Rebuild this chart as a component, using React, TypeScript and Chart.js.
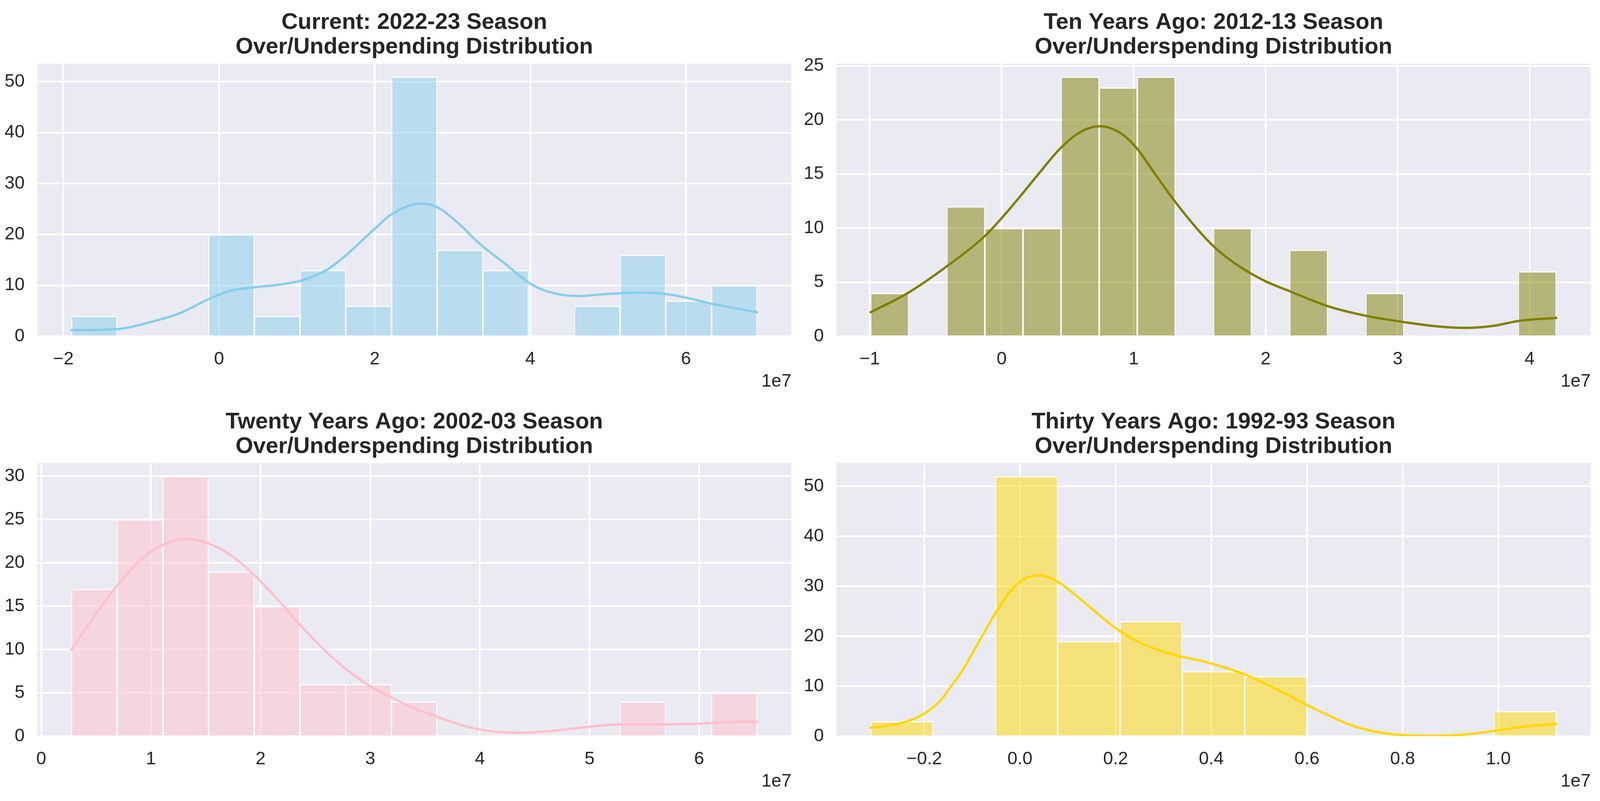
import React, { useEffect, useRef } from "react";
import { Chart, registerables } from "chart.js";

Chart.register(...registerables);

const FONT_FAMILY = '"Liberation Sans", Arial, Helvetica, sans-serif';
const TEXT_COLOR = "#262626";
const PANEL_BG = "#EAEAF2";
const SUBTITLE = "Over/Underspending Distribution";
const OFFSET_LABEL = "1e7";

// ---------- Current: 2022-23 (values in units of 1e7) ----------
const currentTitle = "Current: 2022-23 Season";
const currentBinEdges = [-1.897, -1.3095, -0.722, -0.1345, 0.453, 1.0405, 1.628, 2.2155, 2.803, 3.3905, 3.978, 4.5655, 5.153, 5.7405, 6.328, 6.9155];
const currentCounts = [4, 0, 0, 20, 4, 13, 6, 51, 17, 13, 0, 6, 16, 7, 10];
const currentKdeX = [-1.897, -1.31, -1.027, -0.829, -0.509, -0.147, 0.164, 0.435, 0.76, 1.024, 1.289, 1.411, 1.615, 2.0, 2.211, 2.595, 2.798, 3.075, 3.332, 3.672, 3.983, 4.201, 4.598, 4.995, 5.426, 5.743, 6.054, 6.332, 6.915];
const currentKdeY = [1.2, 1.4, 2.2, 3.0, 4.5, 7.2, 9.0, 9.6, 10.1, 10.8, 12.3, 13.3, 15.7, 21.1, 23.9, 26.07, 25.4, 22.2, 18.4, 14.3, 10.5, 8.9, 7.9, 8.3, 8.6, 8.3, 7.4, 6.4, 4.7];
const currentXTicks = [-2, 0, 2, 4, 6];
const currentXTickLabels = ["\u22122", "0", "2", "4", "6"];
const currentYTicks = [0, 10, 20, 30, 40, 50];
const currentYTickLabels = ["0", "10", "20", "30", "40", "50"];
const currentXLimits = [-2.338, 7.355];
const currentYMax = 53.55;

// ---------- Ten Years Ago: 2012-13 ----------
const tenTitle = "Ten Years Ago: 2012-13 Season";
const tenBinEdges = [-0.993, -0.7044, -0.4158, -0.1272, 0.1614, 0.45, 0.7386, 1.0272, 1.3158, 1.6044, 1.893, 2.1816, 2.4702, 2.7588, 3.0474, 3.336, 3.6246, 3.9132, 4.2018];
const tenCounts = [4, 0, 12, 10, 10, 24, 23, 24, 0, 10, 0, 8, 0, 4, 0, 0, 0, 6];
const tenKdeX = [-0.993, -0.719, -0.415, -0.133, 0.0, 0.14, 0.291, 0.443, 0.595, 0.742, 0.899, 1.02, 1.152, 1.304, 1.474, 1.607, 1.771, 1.998, 2.181, 2.466, 2.763, 3.048, 3.294, 3.508, 3.723, 3.918, 4.202];
const tenKdeY = [2.22, 3.94, 6.47, 9.2, 10.92, 12.93, 15.18, 17.35, 18.87, 19.41, 18.79, 17.43, 15.18, 12.6, 10.03, 8.3, 6.7, 5.09, 4.17, 2.8, 1.88, 1.31, 0.92, 0.78, 0.96, 1.42, 1.7];
const tenXTicks = [-1, 0, 1, 2, 3, 4];
const tenXTickLabels = ["\u22121", "0", "1", "2", "3", "4"];
const tenYTicks = [0, 5, 10, 15, 20, 25];
const tenYTickLabels = ["0", "5", "10", "15", "20", "25"];
const tenXLimits = [-1.2526, 4.462];
const tenYMax = 25.2;

// ---------- Twenty Years Ago: 2002-03 ----------
const twentyTitle = "Twenty Years Ago: 2002-03 Season";
const twentyBinEdges = [0.275, 0.6919, 1.1088, 1.5257, 1.9426, 2.3595, 2.7764, 3.1933, 3.6102, 4.0271, 4.444, 4.8609, 5.2778, 5.6947, 6.1116, 6.5285];
const twentyCounts = [17, 25, 30, 19, 15, 6, 6, 4, 0, 0, 0, 0, 4, 0, 5];
const twentyKdeX = [0.275, 0.469, 0.681, 0.892, 1.099, 1.315, 1.516, 1.737, 1.934, 2.16, 2.352, 2.582, 2.77, 3.005, 3.188, 3.38, 3.606, 3.85, 4.085, 4.366, 4.648, 4.977, 5.282, 5.695, 6.009, 6.291, 6.528];
const twentyKdeY = [9.95, 13.57, 17.2, 20.2, 22.0, 22.76, 22.3, 20.8, 18.7, 15.7, 12.96, 9.95, 7.84, 5.73, 4.52, 3.32, 2.26, 1.21, 0.6, 0.39, 0.6, 1.06, 1.36, 1.36, 1.45, 1.63, 1.66];
const twentyXTicks = [0, 1, 2, 3, 4, 5, 6];
const twentyXTickLabels = ["0", "1", "2", "3", "4", "5", "6"];
const twentyYTicks = [0, 5, 10, 15, 20, 25, 30];
const twentyYTickLabels = ["0", "5", "10", "15", "20", "25", "30"];
const twentyXLimits = [-0.0376, 6.841];
const twentyYMax = 31.5;

// ---------- Thirty Years Ago: 1992-93 ----------
const thirtyTitle = "Thirty Years Ago: 1992-93 Season";
const thirtyBinEdges = [-0.312, -0.1817, -0.0514, 0.0789, 0.2092, 0.3395, 0.4698, 0.6001, 0.7304, 0.8607, 0.991, 1.1213];
const thirtyCounts = [3, 0, 52, 19, 23, 13, 12, 0, 0, 0, 5];
const thirtyKdeX = [-0.312, -0.26, -0.217, -0.185, -0.163, -0.142, -0.119, -0.075, -0.049, -0.018, 0.012, 0.041, 0.078, 0.109, 0.144, 0.2, 0.253, 0.319, 0.384, 0.441, 0.472, 0.523, 0.558, 0.599, 0.645, 0.688, 0.741, 0.801, 0.86, 0.93, 1.0, 1.056, 1.121];
const thirtyKdeY = [1.67, 2.35, 3.65, 5.48, 7.5, 10.2, 13.35, 20.7, 24.96, 29.2, 31.6, 32.17, 30.94, 28.8, 26.0, 21.6, 18.63, 16.34, 14.93, 13.35, 12.29, 10.0, 8.35, 6.26, 4.18, 2.35, 0.94, 0.21, 0.08, 0.34, 1.17, 1.95, 2.45];
const thirtyXTicks = [-0.2, 0, 0.2, 0.4, 0.6, 0.8, 1.0];
const thirtyXTickLabels = ["\u22120.2", "0.0", "0.2", "0.4", "0.6", "0.8", "1.0"];
const thirtyYTicks = [0, 10, 20, 30, 40, 50];
const thirtyYTickLabels = ["0", "10", "20", "30", "40", "50"];
const thirtyXLimits = [-0.3838, 1.193];
const thirtyYMax = 54.6;

// ---------- layout, in reference-figure pixels ----------
const FIG_W = 5352;
const FIG_H = 2051;

type Frame = {
  left: number; top: number; width: number; height: number;
  plotLeft: number; plotTop: number; plotRight: number; plotBottom: number;
};

type Panel = {
  title: string;
  edges: number[];
  counts: number[];
  kdeX: number[];
  kdeY: number[];
  xTicks: number[];
  xTickLabels: string[];
  yTicks: number[];
  yTickLabels: string[];
  xLimits: number[];
  yMax: number;
  line: string;
  fill: string;
  frame: Frame;
};

const panels: Panel[] = [
  {
    title: currentTitle, edges: currentBinEdges, counts: currentCounts, kdeX: currentKdeX, kdeY: currentKdeY,
    xTicks: currentXTicks, xTickLabels: currentXTickLabels, yTicks: currentYTicks, yTickLabels: currentYTickLabels,
    xLimits: currentXLimits, yMax: currentYMax, line: "#87CEEB", fill: "rgba(135,206,235,0.5)",
    frame: { left: 0, top: 0, width: 2672, height: 1010, plotLeft: 124, plotTop: 163, plotRight: 2647, plotBottom: 861 },
  },
  {
    title: tenTitle, edges: tenBinEdges, counts: tenCounts, kdeX: tenKdeX, kdeY: tenKdeY,
    xTicks: tenXTicks, xTickLabels: tenXTickLabels, yTicks: tenYTicks, yTickLabels: tenYTickLabels,
    xLimits: tenXLimits, yMax: tenYMax, line: "#808000", fill: "rgba(128,128,0,0.5)",
    frame: { left: 2672, top: 0, width: 2680, height: 1010, plotLeft: 2797, plotTop: 163, plotRight: 5320, plotBottom: 861 },
  },
  {
    title: twentyTitle, edges: twentyBinEdges, counts: twentyCounts, kdeX: twentyKdeX, kdeY: twentyKdeY,
    xTicks: twentyXTicks, xTickLabels: twentyXTickLabels, yTicks: twentyYTicks, yTickLabels: twentyYTickLabels,
    xLimits: twentyXLimits, yMax: twentyYMax, line: "#FFC0CB", fill: "rgba(255,192,203,0.5)",
    frame: { left: 0, top: 1010, width: 2672, height: 1041, plotLeft: 124, plotTop: 1186, plotRight: 2647, plotBottom: 1885 },
  },
  {
    title: thirtyTitle, edges: thirtyBinEdges, counts: thirtyCounts, kdeX: thirtyKdeX, kdeY: thirtyKdeY,
    xTicks: thirtyXTicks, xTickLabels: thirtyXTickLabels, yTicks: thirtyYTicks, yTickLabels: thirtyYTickLabels,
    xLimits: thirtyXLimits, yMax: thirtyYMax, line: "#FFD700", fill: "rgba(255,215,0,0.5)",
    frame: { left: 2672, top: 1010, width: 2680, height: 1041, plotLeft: 2797, plotTop: 1186, plotRight: 5320, plotBottom: 1885 },
  },
];

function labelFor(values: number[], labels: string[], v: number): string {
  for (let i = 0; i < values.length; i++) {
    if (Math.abs(values[i] - v) < 1e-9) return labels[i];
  }
  return "";
}

function viewScale() {
  if (typeof window === "undefined") return { sx: 1, sy: 1 };
  const w = window.innerWidth || FIG_W;
  const h = window.innerHeight || FIG_H;
  return { sx: Math.min(1, w / FIG_W), sy: Math.min(1, h / FIG_H) };
}

function HistPanel({ p, sx, sy }: { p: Panel; sx: number; sy: number }) {
  const ref = useRef<HTMLCanvasElement | null>(null);

  const fr = p.frame;
  const L = Math.round(fr.left * sx);
  const R = Math.round((fr.left + fr.width) * sx);
  const T = Math.round(fr.top * sy);
  const B = Math.round((fr.top + fr.height) * sy);
  const pl = Math.round(fr.plotLeft * sx);
  const pr = Math.round(fr.plotRight * sx);
  const pt = Math.round(fr.plotTop * sy);
  const pb = Math.round(fr.plotBottom * sy);
  const W = R - L;
  const H = B - T;

  useEffect(() => {
    const canvas = ref.current;
    if (!canvas) return;
    const centers = p.counts.map((_, i) => (p.edges[i] + p.edges[i + 1]) / 2);

    const decor = {
      id: "decor",
      beforeDraw(chart: any) {
        const { ctx, chartArea: a } = chart;
        ctx.save();
        ctx.fillStyle = PANEL_BG;
        ctx.fillRect(a.left, a.top, a.right - a.left, a.bottom - a.top);
        ctx.restore();
      },
      afterDraw(chart: any) {
        const { ctx, chartArea: a } = chart;
        ctx.save();
        ctx.fillStyle = TEXT_COLOR;
        ctx.textAlign = "center";
        ctx.textBaseline = "alphabetic";
        ctx.font = `bold ${Math.round(58 * sy)}px ${FONT_FAMILY}`;
        const cx = (a.left + a.right) / 2;
        ctx.fillText(p.title, cx, a.top - 89 * sy);
        ctx.fillText(SUBTITLE, cx, a.top - 26 * sy);
        ctx.font = `${Math.round(46 * sy)}px ${FONT_FAMILY}`;
        ctx.textAlign = "right";
        ctx.fillText(OFFSET_LABEL, a.right, a.bottom + 129 * sy);
        ctx.restore();
      },
    };

    const tickFont = { size: Math.round(46 * sy), family: FONT_FAMILY };

    const chart = new Chart(canvas, {
      type: "bar",
      data: {
        datasets: [
          {
            type: "line",
            data: p.kdeX.map((x, i) => ({ x, y: p.kdeY[i] })),
            borderColor: p.line,
            borderWidth: 6,
            pointRadius: 0,
            fill: false,
            cubicInterpolationMode: "monotone",
            borderCapStyle: "round",
            borderJoinStyle: "round",
            order: 0,
          } as any,
          {
            type: "bar",
            data: centers.map((x, i) => ({ x, y: p.counts[i] })),
            backgroundColor: p.fill,
            borderColor: "#ffffff",
            borderWidth: { top: 3, left: 2, right: 2, bottom: 0 },
            borderSkipped: "start",
            barPercentage: 1,
            categoryPercentage: 1,
            inflateAmount: 0,
            order: 1,
          } as any,
        ],
      },
      options: {
        animation: false,
        responsive: false,
        maintainAspectRatio: false,
        devicePixelRatio: 1,
        events: [],
        layout: {
          padding: { top: pt - T, right: R - pr, left: 0, bottom: 0 },
        },
        plugins: {
          legend: { display: false },
          title: { display: false },
          tooltip: { enabled: false },
        },
        scales: {
          x: {
            type: "linear",
            min: p.xLimits[0],
            max: p.xLimits[1],
            bounds: "data",
            offset: false,
            grid: { color: "#ffffff", lineWidth: 4, drawTicks: false, offset: false },
            border: { display: false },
            ticks: {
              padding: Math.round(32 * sy),
              font: tickFont,
              color: TEXT_COLOR,
              maxRotation: 0,
              autoSkip: false,
              callback: (v: any) => labelFor(p.xTicks, p.xTickLabels, Number(v)),
            },
            afterBuildTicks: (s: any) => {
              s.ticks = p.xTicks.map((v) => ({ value: v }));
            },
            afterFit: (s: any) => {
              s.height = B - pb;
            },
          },
          y: {
            type: "linear",
            min: 0,
            max: p.yMax,
            bounds: "data",
            grid: { color: "#ffffff", lineWidth: 4, drawTicks: false },
            border: { display: false },
            ticks: {
              padding: Math.round(42 * sx),
              font: tickFont,
              color: TEXT_COLOR,
              autoSkip: false,
              callback: (v: any) => labelFor(p.yTicks, p.yTickLabels, Number(v)),
            },
            afterBuildTicks: (s: any) => {
              s.ticks = p.yTicks.map((v) => ({ value: v }));
            },
            afterFit: (s: any) => {
              s.width = pl - L;
            },
          },
        },
      } as any,
      plugins: [decor as any],
    });

    return () => {
      chart.destroy();
    };
  }, [p, sx, sy]);

  return (
    <canvas
      ref={ref}
      width={W}
      height={H}
      style={{ position: "absolute", left: L, top: T, width: W, height: H }}
    />
  );
}

export default function App() {
  const { sx, sy } = viewScale();
  return (
    <div
      style={{
        position: "absolute",
        left: 0,
        top: 0,
        width: Math.round(FIG_W * sx),
        height: Math.round(FIG_H * sy),
        background: "#ffffff",
        overflow: "hidden",
      }}
    >
      {panels.map((p, i) => (
        <HistPanel key={i} p={p} sx={sx} sy={sy} />
      ))}
    </div>
  );
}
